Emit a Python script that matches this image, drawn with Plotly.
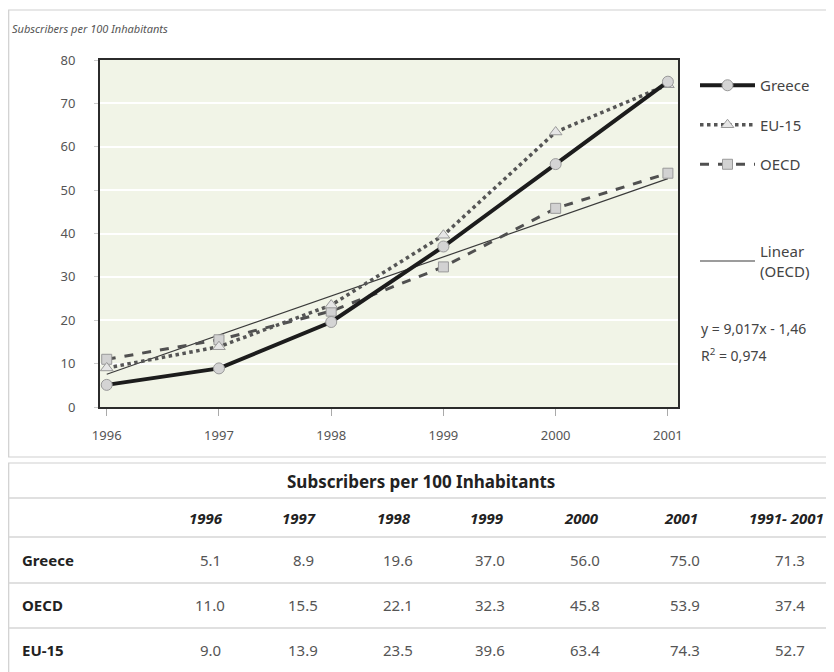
import numpy as np
import plotly.graph_objects as go

years = [1996, 1997, 1998, 1999, 2000, 2001]
greece = [5.1, 8.9, 19.6, 37.0, 56.0, 75.0]
oecd = [11.0, 15.5, 22.1, 32.3, 45.8, 53.9]
eu15 = [9.0, 13.9, 23.5, 39.6, 63.4, 74.3]
growth = {"Greece": 71.3, "OECD": 37.4, "EU-15": 52.7}
table_cols = ["1996", "1997", "1998", "1999", "2000", "2001", "1991- 2001"]
table_rows = ["Greece", "OECD", "EU-15"]
y_ticks = [0, 10, 20, 30, 40, 50, 60, 70, 80]
equation_text = "y = 9,017x - 1,46"
r2_text = "R<sup>2</sup> = 0,974"

# page has an 8px body margin; figure sized to fill the rest of the window
OFF = 8
W, H = 826, 664
FONT = "Noto Sans"

def px(x):
    return (x - OFF) / W

def py(y):
    return 1 - (y - OFF) / H

# linear trend of OECD (x = 1..6)
xi = np.arange(1, len(years) + 1)
slope, intercept = np.polyfit(xi, oecd, 1)
trend = slope * xi + intercept

fig = go.Figure()

fig.add_trace(go.Scatter(
    x=years, y=trend, mode="lines", name="Linear<br>(OECD)",
    line=dict(color="#3a3a3a", width=1.2), legend="legend2"))
fig.add_trace(go.Scatter(
    x=years, y=oecd, mode="lines+markers", name="OECD", legendgroup="c",
    line=dict(color="#505050", width=3, dash="dash"),
    marker=dict(symbol="square", size=10, color="#d2d2d2", line=dict(color="#999", width=1)),
    legendrank=3))
fig.add_trace(go.Scatter(
    x=years, y=eu15, mode="lines+markers", name="EU-15", legendgroup="b",
    line=dict(color="#555555", width=3.5, dash="dot"),
    marker=dict(symbol="triangle-up", size=11, color="#e6e6e6", line=dict(color="#999", width=1)),
    legendrank=2))
fig.add_trace(go.Scatter(
    x=years, y=greece, mode="lines+markers", name="Greece", legendgroup="a",
    line=dict(color="#1c1c1c", width=4),
    marker=dict(symbol="circle", size=11, color="#d4d4d4", line=dict(color="#999", width=1)),
    legendrank=1))

shapes = []
annotations = []

# outer boxes
shapes.append(dict(type="rect", xref="paper", yref="paper", x0=px(8.7), x1=px(845), y0=py(457), y1=py(10),
                   line=dict(color="#cfcfcf", width=1.2)))
shapes.append(dict(type="rect", xref="paper", yref="paper", x0=px(8.7), x1=px(845), y0=py(690), y1=py(463),
                   line=dict(color="#cfcfcf", width=1.2)))

# chart title
annotations.append(dict(text="<i>Subscribers per 100 Inhabitants</i>", xref="paper", yref="paper",
                        x=px(10), y=py(28), xanchor="left", yanchor="middle", showarrow=False,
                        font=dict(family=FONT, size=11, color="#555")))

# trend equation
annotations.append(dict(text=equation_text,
                        xref="paper", yref="paper", x=px(699), y=py(328), xanchor="left", yanchor="middle",
                        showarrow=False, font=dict(family=FONT, size=14, color="#444")))
annotations.append(dict(text=r2_text,
                        xref="paper", yref="paper", x=px(699), y=py(355), xanchor="left", yanchor="middle",
                        showarrow=False, font=dict(family=FONT, size=14, color="#444")))

# table
annotations.append(dict(text="<b>Subscribers per 100 Inhabitants</b>", xref="paper", yref="paper",
                        x=px(421), y=py(481), xanchor="center", yanchor="middle", showarrow=False,
                        font=dict(family=FONT, size=17, color="#222")))
col_x = [206, 299, 394, 486, 581, 681, 786]
row_y = [560, 605, 650]
header_y = 518
for cx, c in zip(col_x, table_cols):
    annotations.append(dict(text=f"<b><i>{c}</i></b>", xref="paper", yref="paper", x=px(cx), y=py(header_y),
                            xanchor="center", yanchor="middle", showarrow=False,
                            font=dict(family=FONT, size=15, color="#222")))
data_map = {"Greece": greece, "OECD": oecd, "EU-15": eu15}
for ry, rname in zip(row_y, table_rows):
    annotations.append(dict(text=f"<b>{rname}</b>", xref="paper", yref="paper", x=px(20), y=py(ry),
                            xanchor="left", yanchor="middle", showarrow=False,
                            font=dict(family=FONT, size=15, color="#222")))
    vals = list(data_map[rname]) + [growth[rname]]
    for cx, v in zip(col_x, vals):
        annotations.append(dict(text=f"{v:.1f}", xref="paper", yref="paper", x=px(cx + 4), y=py(ry),
                                xanchor="center", yanchor="middle", showarrow=False,
                                font=dict(family=FONT, size=15, color="#555")))
for ly in [498, 537, 583, 628]:
    shapes.append(dict(type="line", xref="paper", yref="paper", x0=px(8.7), x1=px(845), y0=py(ly), y1=py(ly),
                       line=dict(color="#d6d6d6", width=1.5)))

fig.update_layout(
    width=W, height=H,
    margin=dict(l=0, r=0, t=0, b=0, autoexpand=False),
    paper_bgcolor="white",
    plot_bgcolor="#f1f4e7",
    font=dict(family=FONT, color="#444"),
    shapes=shapes,
    annotations=annotations,
    legend=dict(x=px(695), y=py(69), xanchor="left", yanchor="top",
                font=dict(family=FONT, size=15, color="#444"), itemwidth=55,
                tracegroupgap=17, traceorder="grouped", bgcolor="rgba(0,0,0,0)"),
    legend2=dict(x=px(695), y=py(235), xanchor="left", yanchor="top", itemwidth=55,
                 font=dict(family=FONT, size=15, color="#444"), bgcolor="rgba(0,0,0,0)"),
    xaxis=dict(domain=[px(100), px(678)], range=[1995.94, 2001.09],
               tickvals=years, ticktext=[str(y) for y in years],
               showgrid=False, zeroline=False,
               showline=True, linecolor="#2b2b2b", linewidth=2, mirror=True,
               ticks="outside", ticklen=7, tickcolor="#aaa", tickwidth=1, ticklabelstandoff=8,
               tickfont=dict(family=FONT, size=13, color="#555")),
    yaxis=dict(domain=[py(407), py(60)], range=[0, 80],
               tickvals=y_ticks, showgrid=True, gridcolor="white", gridwidth=1.5,
               zeroline=False, showline=True, linecolor="#2b2b2b", linewidth=2, mirror=True,
               ticks="outside", ticklen=4, tickcolor="#ccc", ticklabelstandoff=16,
               tickfont=dict(family=FONT, size=13, color="#555")),
)

fig.write_html("out.html")
